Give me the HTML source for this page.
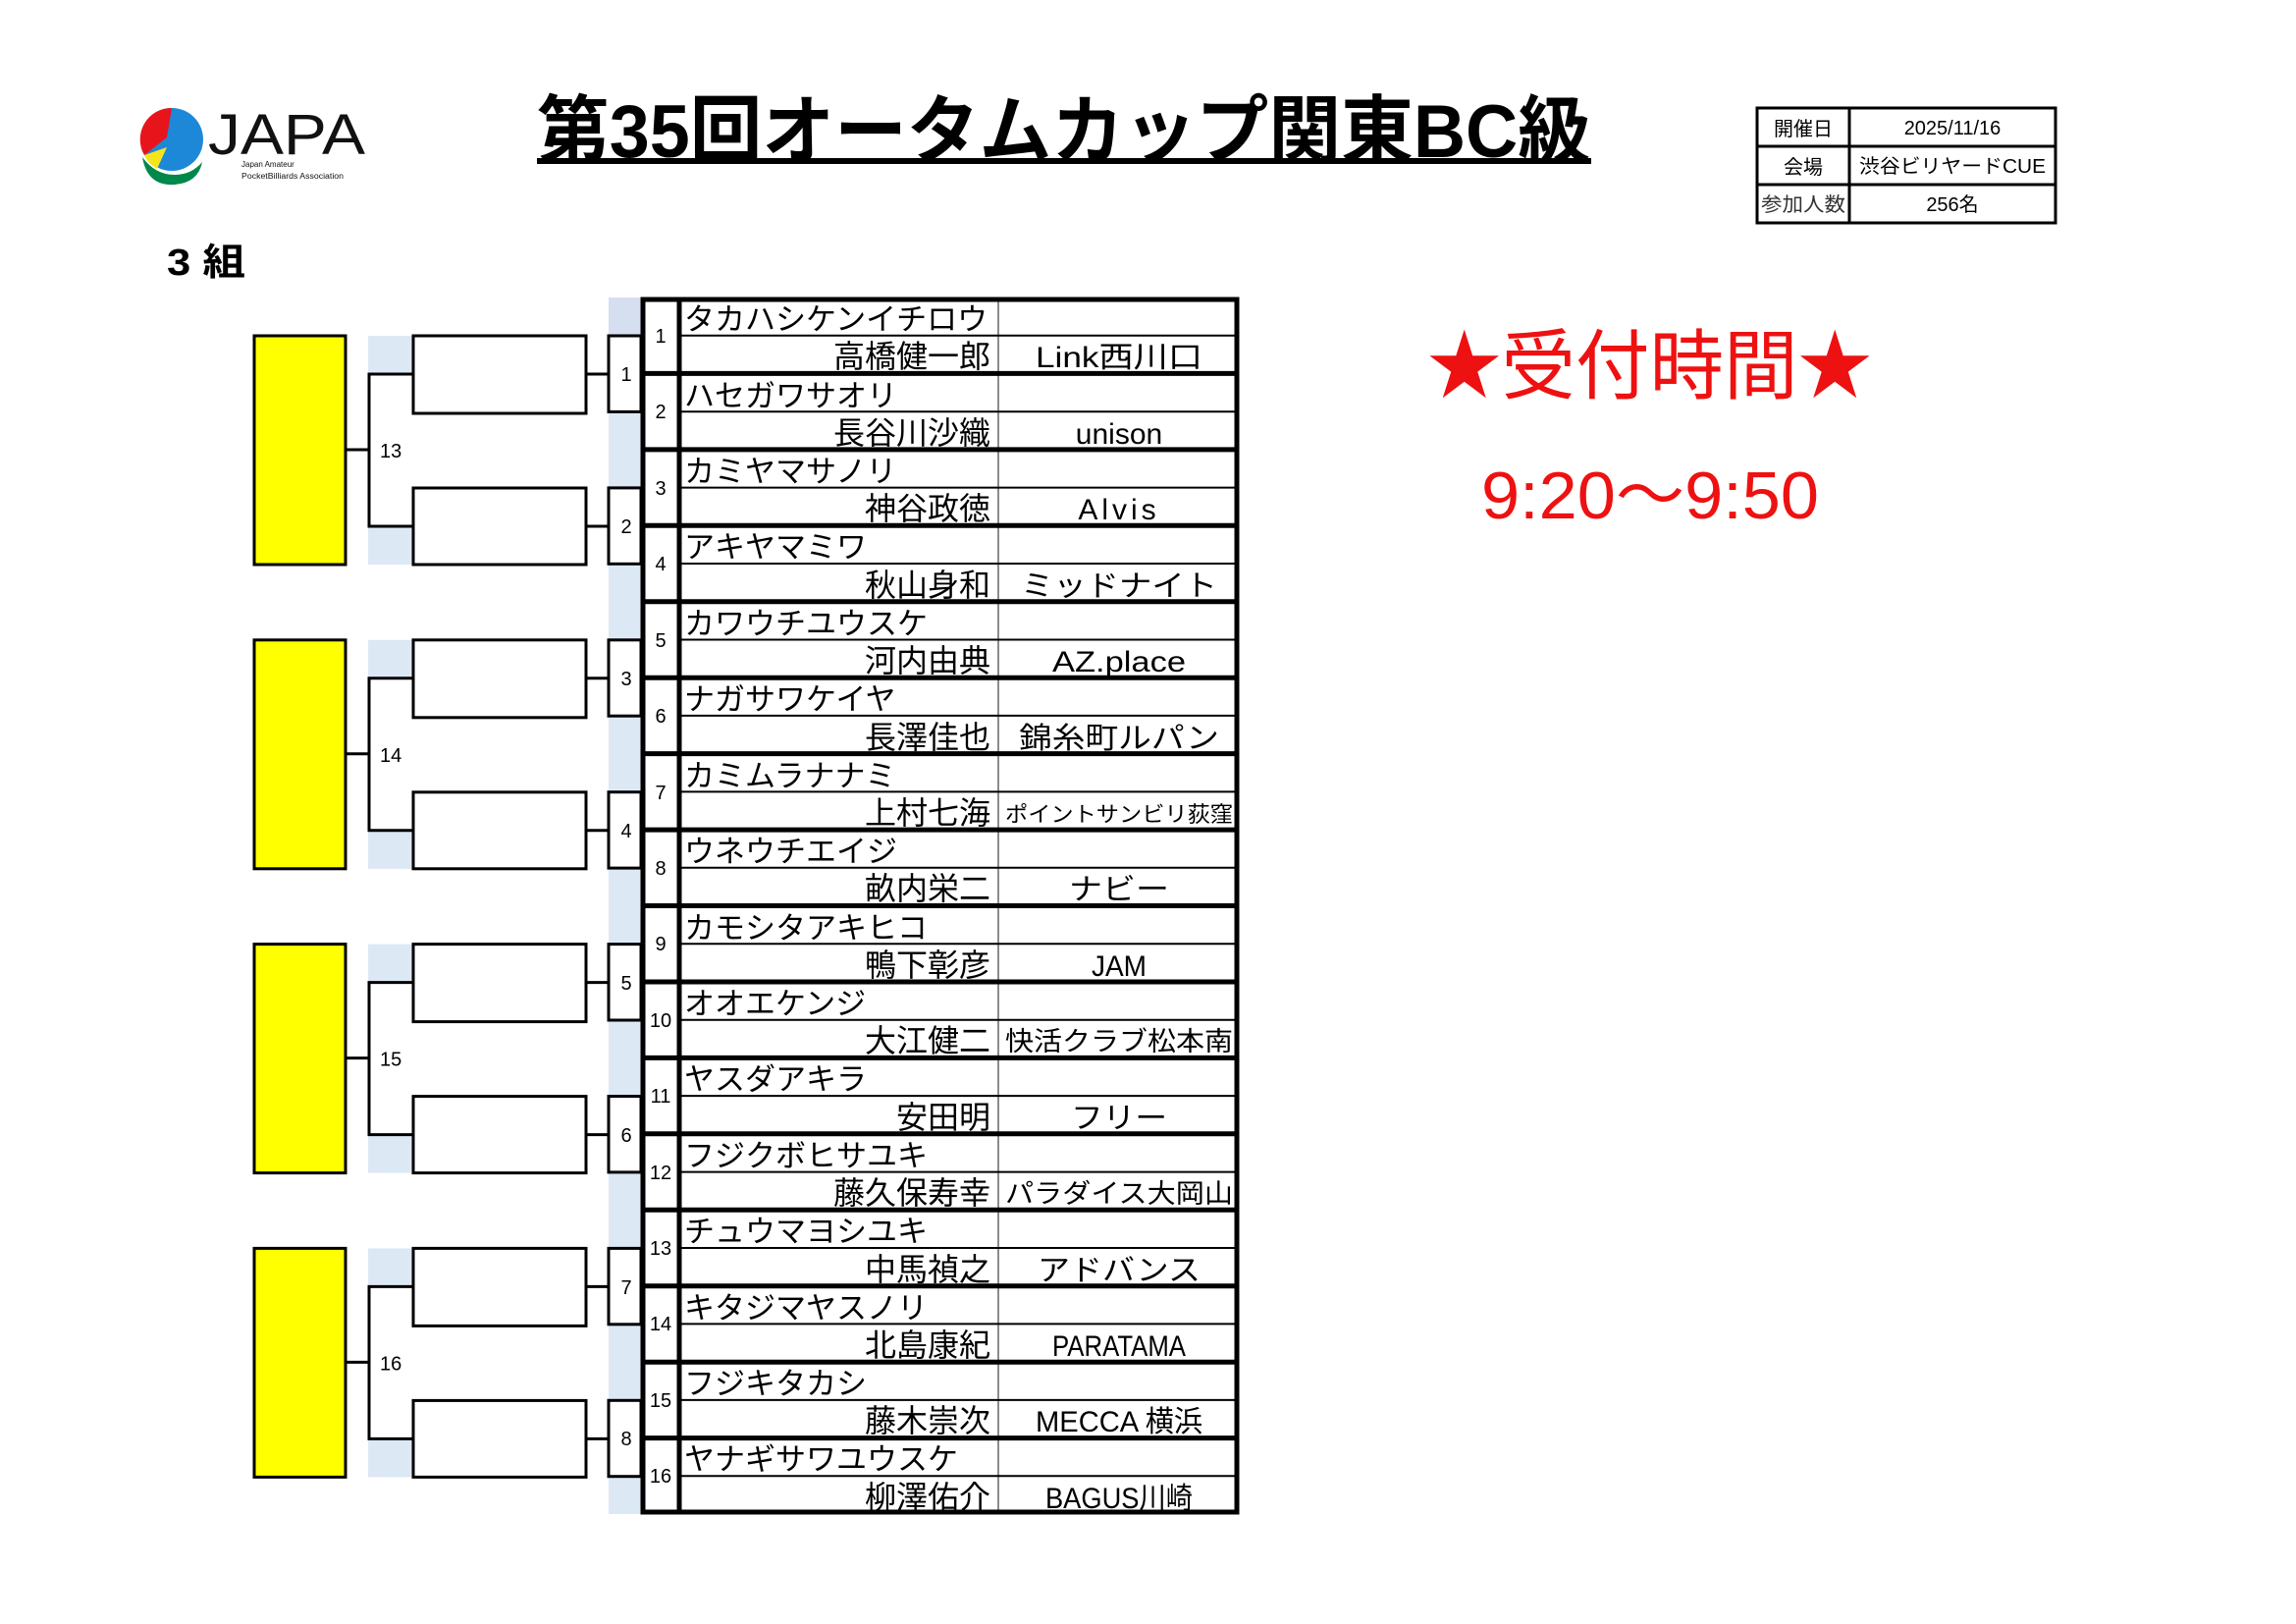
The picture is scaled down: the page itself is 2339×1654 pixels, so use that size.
<!DOCTYPE html>
<html><head><meta charset="utf-8"><style>html,body{margin:0;padding:0;background:#fff}svg{display:block}</style></head>
<body>
<svg xmlns="http://www.w3.org/2000/svg" width="2339" height="1654" viewBox="0 0 2339 1654" font-family="'Liberation Sans','Noto Sans CJK JP',sans-serif">
<rect width="2339" height="1654" fill="#fff"/>
<g>
<circle cx="175" cy="142" r="32" fill="#1e88d8"/>
<path d="M175 110 A32 32 0 0 0 147 158 L170 140 Z" fill="#e8141c"/>
<path d="M147 158 A32 32 0 0 0 160 172 L170 150 Z" fill="#f5e51a"/>
<path d="M145 160 Q150 190 178 188 Q202 186 206 165 Q195 178 178 178 Q158 178 145 160 Z" fill="#00884a"/>
<text x="212" y="157" font-size="58" fill="#111" textLength="160" lengthAdjust="spacingAndGlyphs">JAPA</text>
<text x="246" y="170" font-size="8" fill="#111">Japan Amateur</text>
<text x="246" y="182" font-size="8" fill="#111" textLength="104" lengthAdjust="spacingAndGlyphs">PocketBilliards Association</text>
</g>
<text x="547" y="160" font-size="76" font-weight="bold" fill="#000" textLength="1073" lengthAdjust="spacingAndGlyphs">第35回オータムカップ関東BC級</text>
<rect x="547" y="161" width="1074" height="6" fill="#000"/>
<text x="170" y="280" font-size="38" font-weight="bold" fill="#000" textLength="80" lengthAdjust="spacingAndGlyphs">3 組</text>
<g transform="translate(-10,0)">
<g stroke="#000" stroke-width="3" fill="none">
<rect x="1800" y="110" width="304" height="117"/>
<line x1="1894" y1="110" x2="1894" y2="227"/>
<line x1="1800" y1="149" x2="2104" y2="149"/>
<line x1="1800" y1="188" x2="2104" y2="188"/>
</g>
<g font-size="20" fill="#000" text-anchor="middle">
<text x="1847" y="138">開催日</text>
<text x="1999" y="137">2025/11/16</text>
<text x="1847" y="177">会場</text>
<text x="1999" y="176" textLength="190" lengthAdjust="spacingAndGlyphs">渋谷ビリヤードCUE</text>
<text x="1847" y="215" fill="#333" textLength="86" lengthAdjust="spacingAndGlyphs">参加人数</text>
<text x="1999" y="215">256名</text>
</g>
</g>
<text x="1454" y="400" font-size="78" fill="#ee1111" textLength="453" lengthAdjust="spacingAndGlyphs">★受付時間★</text>
<text x="1509" y="528" font-size="68" fill="#ee1111" textLength="344" lengthAdjust="spacingAndGlyphs">9:20～9:50</text>

<rect x="620" y="303" width="33" height="1239" fill="#dde8f5"/>
<rect x="620" y="303" width="33" height="39" fill="#d6dff0"/>
<g stroke="#000" stroke-width="3" fill="#fff">
<rect x="620" y="342" width="33" height="77.4"/>
<rect x="620" y="496.9" width="33" height="77.4"/>
<rect x="620" y="651.8" width="33" height="77.4"/>
<rect x="620" y="806.7" width="33" height="77.4"/>
<rect x="620" y="961.6" width="33" height="77.4"/>
<rect x="620" y="1116.5" width="33" height="77.4"/>
<rect x="620" y="1271.4" width="33" height="77.4"/>
<rect x="620" y="1426.3" width="33" height="77.4"/>
</g>
<g font-size="20" fill="#000" text-anchor="middle">
<text x="638" y="388">1</text><text x="638" y="543">2</text><text x="638" y="698">3</text><text x="638" y="853">4</text>
<text x="638" y="1008">5</text><text x="638" y="1163">6</text><text x="638" y="1318">7</text><text x="638" y="1472">8</text>
</g>
<g>
<g transform="translate(0,0)">
<rect x="375" y="342" width="46" height="39" fill="#dde8f5"/><rect x="375" y="536" width="46" height="39" fill="#dde8f5"/>
<g stroke="#000" stroke-width="3" fill="none"><polyline points="421,381 376,381 376,536 421,536"/><line x1="352" y1="458" x2="376" y2="458"/><line x1="597" y1="381" x2="620" y2="381"/><line x1="597" y1="536" x2="620" y2="536"/></g>
<rect x="259" y="342" width="93" height="233" fill="#ffff00" stroke="#000" stroke-width="3"/>
<rect x="421" y="342" width="176" height="79" fill="#fff" stroke="#000" stroke-width="3"/><rect x="421" y="497" width="176" height="78" fill="#fff" stroke="#000" stroke-width="3"/>
<text x="387" y="466" font-size="20">13</text>
</g>
<g transform="translate(0,309.8)">
<rect x="375" y="342" width="46" height="39" fill="#dde8f5"/><rect x="375" y="536" width="46" height="39" fill="#dde8f5"/>
<g stroke="#000" stroke-width="3" fill="none"><polyline points="421,381 376,381 376,536 421,536"/><line x1="352" y1="458" x2="376" y2="458"/><line x1="597" y1="381" x2="620" y2="381"/><line x1="597" y1="536" x2="620" y2="536"/></g>
<rect x="259" y="342" width="93" height="233" fill="#ffff00" stroke="#000" stroke-width="3"/>
<rect x="421" y="342" width="176" height="79" fill="#fff" stroke="#000" stroke-width="3"/><rect x="421" y="497" width="176" height="78" fill="#fff" stroke="#000" stroke-width="3"/>
<text x="387" y="466" font-size="20">14</text>
</g>
<g transform="translate(0,619.6)">
<rect x="375" y="342" width="46" height="39" fill="#dde8f5"/><rect x="375" y="536" width="46" height="39" fill="#dde8f5"/>
<g stroke="#000" stroke-width="3" fill="none"><polyline points="421,381 376,381 376,536 421,536"/><line x1="352" y1="458" x2="376" y2="458"/><line x1="597" y1="381" x2="620" y2="381"/><line x1="597" y1="536" x2="620" y2="536"/></g>
<rect x="259" y="342" width="93" height="233" fill="#ffff00" stroke="#000" stroke-width="3"/>
<rect x="421" y="342" width="176" height="79" fill="#fff" stroke="#000" stroke-width="3"/><rect x="421" y="497" width="176" height="78" fill="#fff" stroke="#000" stroke-width="3"/>
<text x="387" y="466" font-size="20">15</text>
</g>
<g transform="translate(0,929.4)">
<rect x="375" y="342" width="46" height="39" fill="#dde8f5"/><rect x="375" y="536" width="46" height="39" fill="#dde8f5"/>
<g stroke="#000" stroke-width="3" fill="none"><polyline points="421,381 376,381 376,536 421,536"/><line x1="352" y1="458" x2="376" y2="458"/><line x1="597" y1="381" x2="620" y2="381"/><line x1="597" y1="536" x2="620" y2="536"/></g>
<rect x="259" y="342" width="93" height="233" fill="#ffff00" stroke="#000" stroke-width="3"/>
<rect x="421" y="342" width="176" height="79" fill="#fff" stroke="#000" stroke-width="3"/><rect x="421" y="497" width="176" height="78" fill="#fff" stroke="#000" stroke-width="3"/>
<text x="387" y="466" font-size="20">16</text>
</g>
</g>

<rect x="653" y="303" width="609" height="1239" fill="#fff"/>
<g stroke="#666" stroke-width="1.5">
<line x1="1017" y1="303" x2="1017" y2="1542"/>
</g>
<g stroke="#000" stroke-width="2">
<line x1="692" y1="341.7" x2="1262" y2="341.7"/><line x1="692" y1="419.2" x2="1262" y2="419.2"/><line x1="692" y1="496.6" x2="1262" y2="496.6"/><line x1="692" y1="574.0" x2="1262" y2="574.0"/>
<line x1="692" y1="651.5" x2="1262" y2="651.5"/><line x1="692" y1="728.9" x2="1262" y2="728.9"/><line x1="692" y1="806.4" x2="1262" y2="806.4"/><line x1="692" y1="883.8" x2="1262" y2="883.8"/>
<line x1="692" y1="961.2" x2="1262" y2="961.2"/><line x1="692" y1="1038.7" x2="1262" y2="1038.7"/><line x1="692" y1="1116.1" x2="1262" y2="1116.1"/><line x1="692" y1="1193.6" x2="1262" y2="1193.6"/>
<line x1="692" y1="1271.0" x2="1262" y2="1271.0"/><line x1="692" y1="1348.4" x2="1262" y2="1348.4"/><line x1="692" y1="1425.9" x2="1262" y2="1425.9"/><line x1="692" y1="1503.3" x2="1262" y2="1503.3"/>
</g>
<g stroke="#000" stroke-width="5">
<line x1="653" y1="380.4" x2="1262" y2="380.4"/><line x1="653" y1="457.9" x2="1262" y2="457.9"/><line x1="653" y1="535.3" x2="1262" y2="535.3"/><line x1="653" y1="612.8" x2="1262" y2="612.8"/>
<line x1="653" y1="690.2" x2="1262" y2="690.2"/><line x1="653" y1="767.6" x2="1262" y2="767.6"/><line x1="653" y1="845.1" x2="1262" y2="845.1"/><line x1="653" y1="922.5" x2="1262" y2="922.5"/>
<line x1="653" y1="1000.0" x2="1262" y2="1000.0"/><line x1="653" y1="1077.4" x2="1262" y2="1077.4"/><line x1="653" y1="1154.8" x2="1262" y2="1154.8"/><line x1="653" y1="1232.3" x2="1262" y2="1232.3"/>
<line x1="653" y1="1309.7" x2="1262" y2="1309.7"/><line x1="653" y1="1387.2" x2="1262" y2="1387.2"/><line x1="653" y1="1464.6" x2="1262" y2="1464.6"/>
<line x1="692" y1="303" x2="692" y2="1542"/>
</g>
<rect x="655" y="305" width="605" height="1235" fill="none" stroke="#000" stroke-width="5"/>

<g font-size="20" fill="#000" text-anchor="middle">
<text x="673" y="349">1</text><text x="673" y="426">2</text><text x="673" y="504">3</text><text x="673" y="581">4</text>
<text x="673" y="659">5</text><text x="673" y="736">6</text><text x="673" y="814">7</text><text x="673" y="891">8</text>
<text x="673" y="968">9</text><text x="673" y="1046">10</text><text x="673" y="1123">11</text><text x="673" y="1201">12</text>
<text x="673" y="1278">13</text><text x="673" y="1355">14</text><text x="673" y="1433">15</text><text x="673" y="1510">16</text>
</g>
<g font-size="31" fill="#000">
<text x="697" y="336">タカハシケンイチロウ</text>
<text x="697" y="414">ハセガワサオリ</text>
<text x="697" y="491">カミヤマサノリ</text>
<text x="697" y="568">アキヤマミワ</text>
<text x="697" y="646">カワウチユウスケ</text>
<text x="697" y="723">ナガサワケイヤ</text>
<text x="697" y="801">カミムラナナミ</text>
<text x="697" y="878">ウネウチエイジ</text>
<text x="697" y="956">カモシタアキヒコ</text>
<text x="697" y="1033">オオエケンジ</text>
<text x="697" y="1110">ヤスダアキラ</text>
<text x="697" y="1188">フジクボヒサユキ</text>
<text x="697" y="1265">チュウマヨシユキ</text>
<text x="697" y="1343">キタジマヤスノリ</text>
<text x="697" y="1420">フジキタカシ</text>
<text x="697" y="1497">ヤナギサワユウスケ</text>
</g>
<g font-size="32" fill="#000" text-anchor="end">
<text x="1009" y="374">高橋健一郎</text>
<text x="1009" y="452">長谷川沙織</text>
<text x="1009" y="529">神谷政徳</text>
<text x="1009" y="607">秋山身和</text>
<text x="1009" y="684">河内由典</text>
<text x="1009" y="762">長澤佳也</text>
<text x="1009" y="839">上村七海</text>
<text x="1009" y="916">畝内栄二</text>
<text x="1009" y="994">鴨下彰彦</text>
<text x="1009" y="1071">大江健二</text>
<text x="1009" y="1149">安田明</text>
<text x="1009" y="1226">藤久保寿幸</text>
<text x="1009" y="1304">中馬禎之</text>
<text x="1009" y="1381">北島康紀</text>
<text x="1009" y="1458">藤木崇次</text>
<text x="1009" y="1536">柳澤佑介</text>
</g>
<g font-size="30" fill="#000" text-anchor="middle">
<text x="1140" y="374" textLength="170" lengthAdjust="spacingAndGlyphs">Link西川口</text>
<text x="1140" y="452">unison</text>
<text x="1140" y="529" letter-spacing="4">Alvis</text>
<text x="1140" y="607" textLength="200" lengthAdjust="spacingAndGlyphs">ミッドナイト</text>
<text x="1140" y="684" textLength="136" lengthAdjust="spacingAndGlyphs">AZ.place</text>
<text x="1140" y="762" textLength="204" lengthAdjust="spacingAndGlyphs">錦糸町ルパン</text>
<text x="1140" y="837" font-size="22" textLength="232" lengthAdjust="spacingAndGlyphs">ポイントサンビリ荻窪</text>
<text x="1140" y="916" textLength="102" lengthAdjust="spacingAndGlyphs">ナビー</text>
<text x="1140" y="994" textLength="56" lengthAdjust="spacingAndGlyphs">JAM</text>
<text x="1140" y="1070" font-size="27" textLength="232" lengthAdjust="spacingAndGlyphs">快活クラブ松本南</text>
<text x="1140" y="1149" textLength="98" lengthAdjust="spacingAndGlyphs">フリー</text>
<text x="1140" y="1225" font-size="27" textLength="232" lengthAdjust="spacingAndGlyphs">パラダイス大岡山</text>
<text x="1140" y="1304" textLength="166" lengthAdjust="spacingAndGlyphs">アドバンス</text>
<text x="1140" y="1381" textLength="136" lengthAdjust="spacingAndGlyphs">PARATAMA</text>
<text x="1140" y="1458" textLength="170" lengthAdjust="spacingAndGlyphs">MECCA 横浜</text>
<text x="1140" y="1536" textLength="150" lengthAdjust="spacingAndGlyphs">BAGUS川崎</text>
</g>
</svg>
</body></html>
